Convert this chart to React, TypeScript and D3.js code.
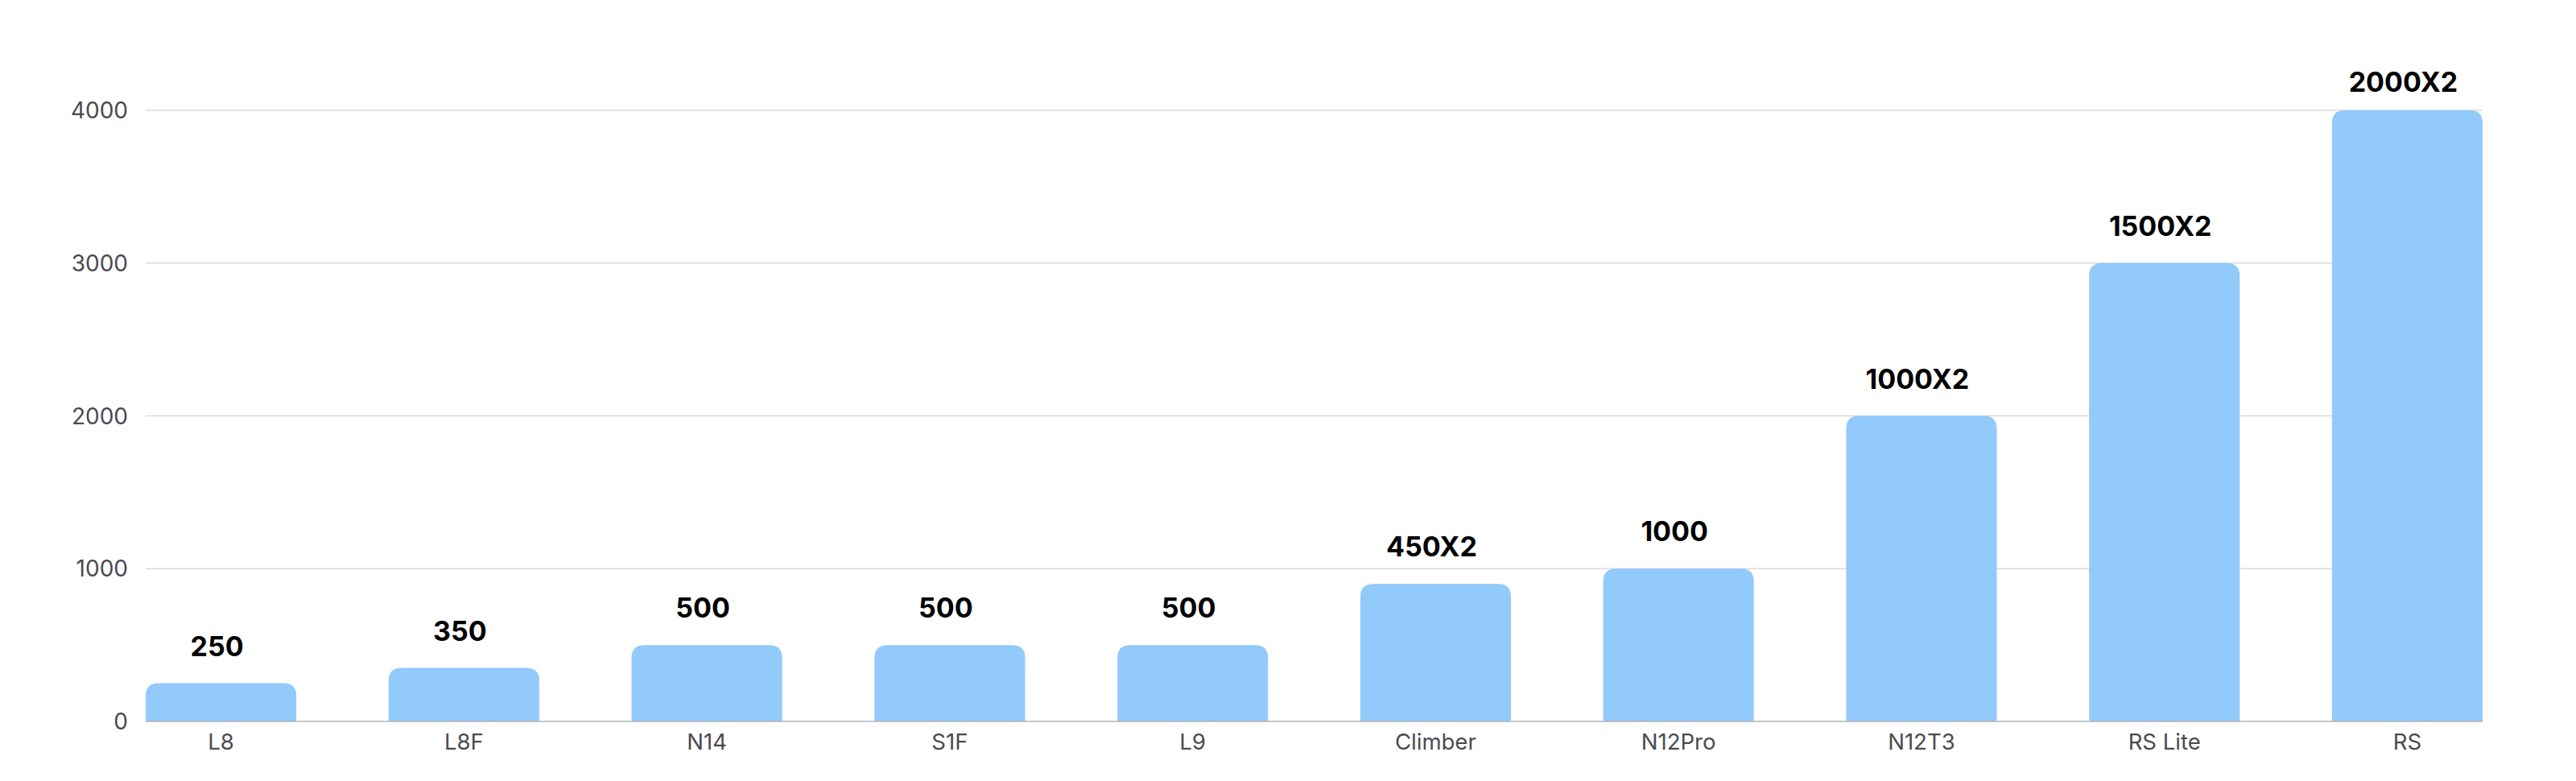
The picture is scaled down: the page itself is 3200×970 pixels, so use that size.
import { useMemo } from "react";
import * as d3 from "d3";

const models = ["L8", "L8F", "N14", "S1F", "L9", "Climber", "N12Pro", "N12T3", "RS Lite", "RS"];
const totals = [250, 350, 500, 500, 500, 900, 1000, 2000, 3000, 4000];
const valueLabels = ["250", "350", "500", "500", "500", "450X2", "1000", "1000X2", "1500X2", "2000X2"];
const yTicks = [0, 1000, 2000, 3000, 4000];

const W = 3200;
const H = 970;
const margin = { left: 181, right: 116, top: 137, bottom: 74 };
const FONT = "Inter, 'Noto Sans', sans-serif";

// bar path with rounded top corners only
function barPath(x: number, y: number, w: number, h: number, r: number) {
  const rr = Math.min(r, h, w / 2);
  return `M${x},${y + h}V${y + rr}Q${x},${y} ${x + rr},${y}H${x + w - rr}Q${x + w},${y} ${x + w},${y + rr}V${y + h}Z`;
}

export default function App() {
  const { x, y } = useMemo(() => {
    const x = d3
      .scaleBand<string>()
      .domain(models)
      .range([margin.left, W - margin.right])
      .paddingInner(0.38)
      .paddingOuter(0);
    const y = d3
      .scaleLinear()
      .domain([0, 4000])
      .range([H - margin.bottom, margin.top]);
    return { x, y };
  }, []);

  const x0 = margin.left;
  const x1 = W - margin.right;

  return (
    <svg
      width={W}
      height={H}
      style={{ position: "absolute", left: 0, top: 0, background: "#fff" }}
    >
      {/* gridlines + y labels */}
      {yTicks.map((t) => (
        <g key={t}>
          {t > 0 && (
            <line x1={x0} x2={x1} y1={y(t)} y2={y(t)} stroke="#dadada" strokeWidth={1.5} />
          )}
          <text
            x={159}
            y={y(t)}
            textAnchor="end"
            dominantBaseline="central"
            fontFamily={FONT}
            fontSize={28}
            fill="#4b4a50"
          >
            {t}
          </text>
        </g>
      ))}

      {/* bars */}
      {models.map((m, i) => {
        const bx = x(m)!;
        const by = y(totals[i]);
        return (
          <path
            key={m}
            d={barPath(bx, by, x.bandwidth(), y(0) - by, 16)}
            fill="#92caFB"
          />
        );
      })}

      {/* baseline */}
      <line x1={x0} x2={x1} y1={y(0)} y2={y(0)} stroke="#b3b3b3" strokeWidth={1.5} />

      {/* value labels */}
      {models.map((m, i) => (
        <text
          key={m}
          x={x(m)! + x.bandwidth() / 2 - 5}
          y={Math.max(y(totals[i]) - 34, 114)}
          textAnchor="middle"
          fontFamily={FONT}
          fontWeight={700}
          fontSize={34}
          fill="#000"
        >
          {valueLabels[i]}
        </text>
      ))}

      {/* category labels */}
      {models.map((m) => (
        <text
          key={m}
          x={x(m)! + x.bandwidth() / 2}
          y={931}
          textAnchor="middle"
          fontFamily={FONT}
          fontSize={27.5}
          fill="#4b4a50"
        >
          {m}
        </text>
      ))}
    </svg>
  );
}
